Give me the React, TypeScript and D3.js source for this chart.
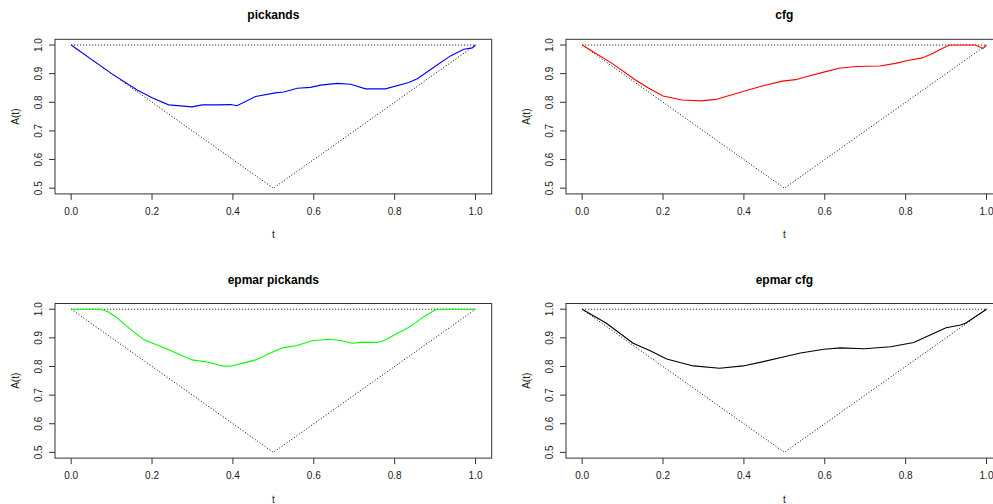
import React from "react";
import * as d3 from "d3";

// Estimated dependence functions A(t) for four estimators
const pickandsT = [0, 0.05, 0.1, 0.163, 0.2, 0.241, 0.299, 0.324, 0.36, 0.395, 0.41, 0.456, 0.505, 0.526, 0.559, 0.592, 0.617, 0.658, 0.691, 0.728, 0.777, 0.835, 0.856, 0.905, 0.938, 0.971, 0.992, 1.0];
const pickandsA = [1, 0.95, 0.9, 0.843, 0.816, 0.791, 0.784, 0.791, 0.791, 0.792, 0.788, 0.82, 0.833, 0.836, 0.849, 0.852, 0.86, 0.866, 0.863, 0.847, 0.847, 0.869, 0.882, 0.93, 0.962, 0.985, 0.99, 1.0];

const cfgT = [0, 0.074, 0.132, 0.165, 0.2, 0.247, 0.295, 0.33, 0.396, 0.445, 0.495, 0.528, 0.561, 0.602, 0.635, 0.678, 0.736, 0.775, 0.808, 0.841, 0.868, 0.89, 0.909, 0.971, 0.992, 1.0];
const cfgA = [1, 0.936, 0.878, 0.849, 0.822, 0.808, 0.805, 0.81, 0.837, 0.857, 0.874, 0.879, 0.892, 0.907, 0.919, 0.925, 0.927, 0.936, 0.947, 0.955, 0.971, 0.988, 1.0, 1.0, 0.988, 1.0];

const epmarPickandsT = [0, 0.0725, 0.09, 0.11, 0.143, 0.18, 0.233, 0.299, 0.34, 0.373, 0.394, 0.42, 0.456, 0.505, 0.526, 0.559, 0.596, 0.637, 0.666, 0.695, 0.724, 0.757, 0.773, 0.806, 0.839, 0.872, 0.901, 0.905, 1.0];
const epmarPickandsA = [1, 1, 0.992, 0.974, 0.934, 0.893, 0.864, 0.823, 0.815, 0.802, 0.801, 0.81, 0.823, 0.855, 0.866, 0.873, 0.89, 0.895, 0.891, 0.881, 0.885, 0.884, 0.89, 0.915, 0.94, 0.974, 0.998, 1, 1];

const epmarCfgT = [0, 0.06, 0.126, 0.167, 0.209, 0.275, 0.34, 0.398, 0.448, 0.505, 0.54, 0.598, 0.639, 0.697, 0.763, 0.82, 0.87, 0.9, 0.936, 0.948, 1.0];
const epmarCfgA = [1, 0.951, 0.881, 0.856, 0.826, 0.802, 0.794, 0.802, 0.817, 0.836, 0.847, 0.86, 0.865, 0.862, 0.869, 0.884, 0.916, 0.935, 0.945, 0.951, 1.0];

const panelTitles = ["pickands", "cfg", "epmar pickands", "epmar cfg"];
const panelColors = ["#0000ff", "#ff0000", "#00ff00", "#000000"];
const xTicks = [0, 0.2, 0.4, 0.6, 0.8, 1.0];
const yTicks = [0.5, 0.6, 0.7, 0.8, 0.9, 1.0];
// bounds of the admissible region: max(t, 1 - t) and 1
const boundT = [0, 0.5, 1];
const boundA = [1, 0.5, 1];

const seriesT = [pickandsT, cfgT, epmarPickandsT, epmarCfgT];
const seriesA = [pickandsA, cfgA, epmarPickandsA, epmarCfgA];

const W = 993;
const H = 504;
const colLeft = [55, 566];
const plotW = 436.7;
const rowTop = [39.3, 303.5];
const plotH = 154.6;
const FONT = "'Liberation Sans', Arial, Helvetica, sans-serif";

type PanelProps = { idx: number; left: number; top: number };

function Panel({ idx, left, top }: PanelProps) {
  const x = d3.scaleLinear().domain([-0.04, 1.04]).range([left, left + plotW]);
  const y = d3.scaleLinear().domain([0.48, 1.02]).range([top + plotH, top]);
  const line = d3
    .line<number>()
    .x((_, i) => x(seriesT[idx][i]))
    .y((d) => y(d));
  const bound = d3
    .line<number>()
    .x((_, i) => x(boundT[i]))
    .y((d) => y(d));
  const bottom = top + plotH;
  const cx = left + plotW / 2;
  const textColor = "#222";

  return (
    <g>
      <text
        x={cx}
        y={top - 20}
        textAnchor="middle"
        fontSize={12}
        fontWeight="bold"
        fill="#000"
        fontFamily={FONT}
      >
        {panelTitles[idx]}
      </text>
      {/* reference bounds */}
      <path d={bound(boundA) ?? ""} fill="none" stroke="#000" strokeWidth={1} strokeDasharray="1 2" />
      <line
        x1={x(0)}
        x2={x(1)}
        y1={y(1)}
        y2={y(1)}
        stroke="#000"
        strokeWidth={1}
        strokeDasharray="1 2"
      />
      <path d={line(seriesA[idx]) ?? ""} fill="none" stroke={panelColors[idx]} strokeWidth={1.1} />
      <rect x={left} y={top} width={plotW} height={plotH} fill="none" stroke="#333" strokeWidth={1} />
      {/* x axis */}
      {xTicks.map((t) => (
        <g key={`x${t}`}>
          <line x1={x(t)} x2={x(t)} y1={bottom} y2={bottom + 6} stroke="#333" />
          <text
            x={x(t)}
            y={bottom + 21}
            textAnchor="middle"
            fontSize={10}
            fill={textColor}
            fontFamily={FONT}
          >
            {t.toFixed(1)}
          </text>
        </g>
      ))}
      <text x={cx} y={bottom + 44.5} textAnchor="middle" fontSize={10} fill={textColor} fontFamily={FONT}>
        t
      </text>
      {/* y axis */}
      {yTicks.map((v) => (
        <g key={`y${v}`}>
          <line x1={left - 6} x2={left} y1={y(v)} y2={y(v)} stroke="#333" />
          <text
            transform={`translate(${left - 13.5},${y(v)}) rotate(-90)`}
            textAnchor="middle"
            fontSize={10}
            fill={textColor}
            fontFamily={FONT}
          >
            {v.toFixed(1)}
          </text>
        </g>
      ))}
      <text
        transform={`translate(${left - 36.5},${top + plotH / 2}) rotate(-90)`}
        textAnchor="middle"
        fontSize={10}
        fill={textColor}
        fontFamily={FONT}
      >
        A(t)
      </text>
    </g>
  );
}

export default function App() {
  return (
    <svg
      width={W}
      height={H}
      viewBox={`0 0 ${W} ${H}`}
      style={{ position: "absolute", left: 0, top: 0, background: "#fff", overflow: "hidden" }}
    >
      <rect width={W} height={H} fill="#fff" />
      {[0, 1, 2, 3].map((i) => (
        <Panel key={i} idx={i} left={colLeft[i % 2]} top={rowTop[Math.floor(i / 2)]} />
      ))}
    </svg>
  );
}
